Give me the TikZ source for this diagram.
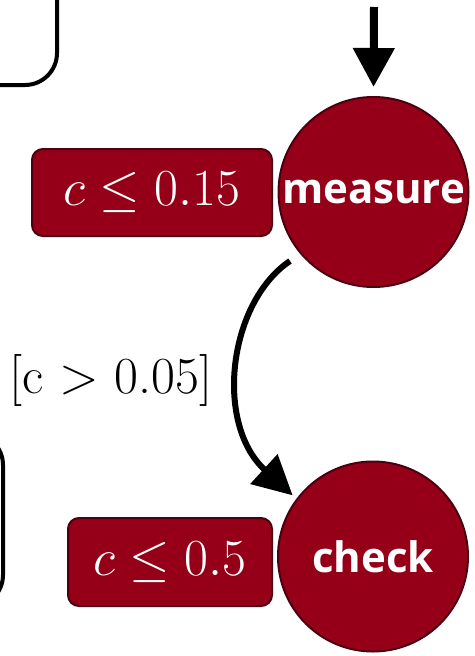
\RequirePackage{fix-cm}
\documentclass[tikz,border=0pt]{standalone}
\usepackage{fontspec}
\newfontfamily\opensans{Open Sans}
\usetikzlibrary{arrows.meta}
\definecolor{statered}{HTML}{950018}
\definecolor{stateborder}{HTML}{4A0010}
\newcommand{\statefont}{\opensans\bfseries\fontsize{42}{50}\selectfont}
\newcommand{\guardfont}{\fontsize{52}{62}\selectfont}
\tikzset{
  state/.style={circle, fill=statered, draw=stateborder, line width=2pt,
    minimum size=190pt, inner sep=0pt, text=white, font=\statefont},
  guard/.style={rectangle, rounded corners=11pt, fill=statered, draw=stateborder,
    line width=2pt, inner sep=0pt, text=white, font=\guardfont},
  frame/.style={draw=black, line width=4pt, rounded corners=32pt},
  flow/.style={line width=6pt, -{Triangle[length=39pt,width=39pt]}},
  flowtop/.style={line width=8pt, -{Triangle[length=39pt,width=40pt]}},
  elabel/.style={font=\guardfont, inner sep=0pt}
}
\begin{document}
\begin{tikzpicture}[x=1pt,y=-1pt]
\useasboundingbox (0,0) rectangle (474,656);
\clip (0,0) rectangle (474,656);
% partial frames on the left
\draw[frame] (-80,-80) rectangle (57,85);
\draw[frame] (-200,433) rectangle (3,607);
% states
\node[state] (measure) at (373.5,192) {measure};
\node[state] (check) at (373,556.5) {check};
% guards
\node[guard, minimum width=240pt, minimum height=87pt] (g1) at (152,192.5) {$c \leq 0.15$};
\node[guard, minimum width=204pt, minimum height=88pt] (g2) at (170,562) {$c \leq 0.5$};
% incoming arrow
\coordinate (in) at (374,7);
\draw[flowtop, shorten >=9pt] (in) -- (measure.north);
% transition
\coordinate (out) at ([shift={(-83.5,69)}]measure.center);
\draw[flow, shorten >=5pt] (out) .. controls +(-62,42) and +(-82,-75) .. (check.143);
\node[elabel] (lab) at (111,380) {[c $>$ 0.05]};
\end{tikzpicture}
\end{document}
